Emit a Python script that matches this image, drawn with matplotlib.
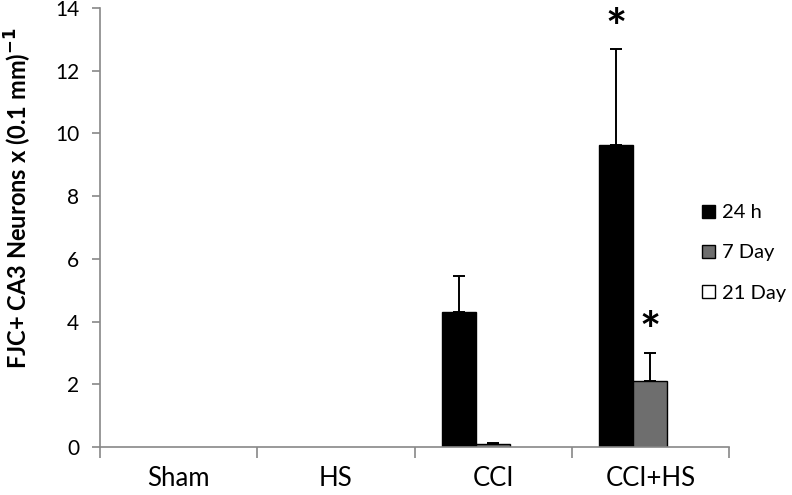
import matplotlib
matplotlib.use("Agg")
import matplotlib.pyplot as plt
import numpy as np

plt.rcParams['font.family'] = ['Lato', 'DejaVu Sans']

categories = ["Sham", "HS", "CCI", "CCI+HS"]
series = ["24 h", "7 Day", "21 Day"]
values_24h = [0, 0, 4.31, 9.63]
values_7d = [0, 0, 0.08, 2.10]
values_21d = [0, 0, 0, 0]
err_24h = [0, 0, 1.15, 3.05]
err_7d = [0, 0, 0.06, 0.91]
err_21d = [0, 0, 0, 0]
sig_24h = [False, False, False, True]
sig_7d = [False, False, False, True]

colors = ["#000000", "#6e6e6e", "#ffffff"]

fig = plt.figure(figsize=(7.92, 4.95), dpi=100)
ax = fig.add_axes([100/792, 1-447/495, (729-100)/792, (447-8)/495])

x = np.arange(len(categories))
w = 0.217
vals = [values_24h, values_7d, values_21d]
errs = [err_24h, err_7d, err_21d]
for i, (v, e, c, lab) in enumerate(zip(vals, errs, colors, series)):
    pos = x + (i - 1) * w
    edges = ["#000000" if vv > 0 else "none" for vv in v]
    ax.bar(pos, v, width=w, color=c, edgecolor=edges, linewidth=1.0, zorder=2)
    ax.bar([np.nan], [0], width=w, color=c, edgecolor="#000000", linewidth=1.0, label=lab)
    for p, vv, ee in zip(pos, v, e):
        if ee > 0:
            ax.errorbar([p], [vv], yerr=[[0], [ee]], fmt='none', ecolor='black',
                        elinewidth=1.4, capsize=4.5, capthick=1.4, zorder=3)

for i, (v, e, s) in enumerate([(values_24h, err_24h, sig_24h), (values_7d, err_7d, sig_7d)]):
    pos = x + (i - 1) * w
    for p, vv, ee, ss in zip(pos, v, e, s):
        if ss:
            ax.text(p, vv + ee + 0.15, "*", ha="center", va="baseline", fontsize=36,
                    fontweight="bold", clip_on=False)

ax.set_xlim(-0.5, 3.5)
ax.set_ylim(0, 14)
ax.set_yticks(range(0, 15, 2))
ax.set_xticks(np.arange(-0.5, 4, 1))
ax.set_xticklabels([])
ax.set_xticks(x, minor=True)
ax.set_xticklabels(categories, minor=True)
ax.tick_params(axis='x', which='minor', length=0, pad=14, labelsize=18.5)
ax.tick_params(axis='x', which='major', length=8, color="#888888", width=1.2)
ax.tick_params(axis='y', length=6, color="#888888", width=1.2, labelsize=15, pad=9)

for sp in ["top", "right"]:
    ax.spines[sp].set_visible(False)
for sp in ["left", "bottom"]:
    ax.spines[sp].set_color("#888888")
    ax.spines[sp].set_linewidth(1.2)

ylab = fig.text(18/792, 1-198/495, "FJC+ CA3 Neurons x (0.1 mm)$^{\\mathbf{-1}}$",
                rotation=90, ha="center", va="center", fontsize=16, fontweight="bold")
fig.canvas.draw()
r = fig.canvas.get_renderer()
h = ylab.get_window_extent(r).height
ylab.set_fontsize(16 * 343 / h)

fig.legend(loc="center left", bbox_to_anchor=(702/792, 1-253/495), frameon=False,
           fontsize=14.5, handlelength=0.65, handleheight=0.65, handletextpad=0.35,
           labelspacing=1.15, borderaxespad=0, borderpad=0)

fig.savefig("out.png", dpi=100)
